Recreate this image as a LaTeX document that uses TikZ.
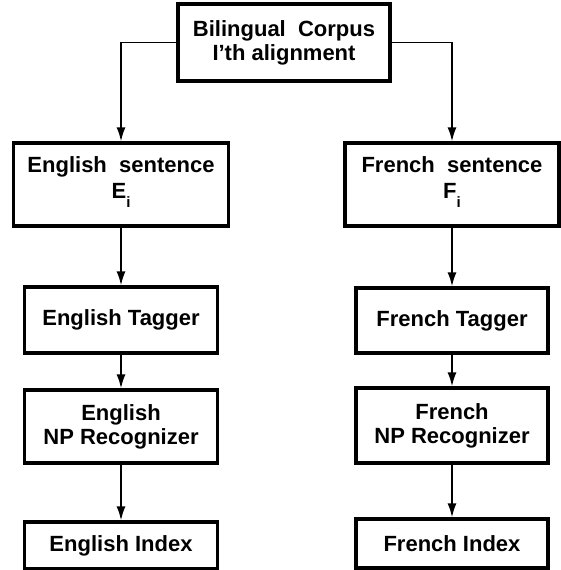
\documentclass[tikz,border=0pt]{standalone}
\usepackage{fontspec}
\setsansfont{Liberation Sans}
\usetikzlibrary{arrows.meta}
\tikzset{mbox/.style = {shape = rectangle,
                        draw = black,
                        line width = 3.2pt,
                        inner sep = 2pt,
                        align = center,
                        font = \sffamily\bfseries\fontsize{22}{24}\selectfont}}
\newcommand{\lowsub}[1]{\raisebox{-0.42em}{\fontsize{15}{15}\selectfont #1}}
\begin{document}
\begin{tikzpicture}[x=1pt, y=-1pt,
                    flow/.style = {-{Latex[length=14pt,width=9pt]},
                                   line width = 1.8pt}]
		\useasboundingbox (0,0) rectangle (561,570);
		\node[mbox, minimum width=212pt, minimum height=77pt, text depth=3pt] (0) at (284,42.5) {Bilingual\ \ Corpus\\I’th alignment};
		% english side
		\node[mbox, minimum width=215pt, minimum height=83pt, text depth=14pt] (1) at (121,184.5) {English\ \ sentence\\[2pt]E\lowsub{i}};
		\node[mbox, minimum width=193pt, minimum height=66pt] (2) at (121,320) {English Tagger};
		\node[mbox, minimum width=193pt, minimum height=73pt] (3) at (121,426.5) {English\\NP Recognizer};
		\node[mbox, minimum width=193pt, minimum height=47pt] (4) at (121,545.5) {English Index};
		% french side
		\node[mbox, minimum width=214pt, minimum height=83pt, text depth=14pt] (5) at (452,184.5) {French\ \ sentence\\[2pt]F\lowsub{i}};
		\node[mbox, minimum width=192pt, minimum height=65pt] (6) at (452,320.5) {French Tagger};
		\node[mbox, minimum width=192pt, minimum height=75pt] (7) at (452,425.5) {French\\NP Recognizer};
		\node[mbox, minimum width=192pt, minimum height=49pt] (8) at (452,543.5) {French Index};
		\draw[flow] (0) -| (1);
		\draw[flow] (0) -| (5);
		\path (1) edge[flow] (2);
		\path (2) edge[flow] (3);
		\path (3) edge[flow] (4);
		\path (5) edge[flow] (6);
		\path (6) edge[flow] (7);
		\path (7) edge[flow] (8);
	\end{tikzpicture}
\end{document}
